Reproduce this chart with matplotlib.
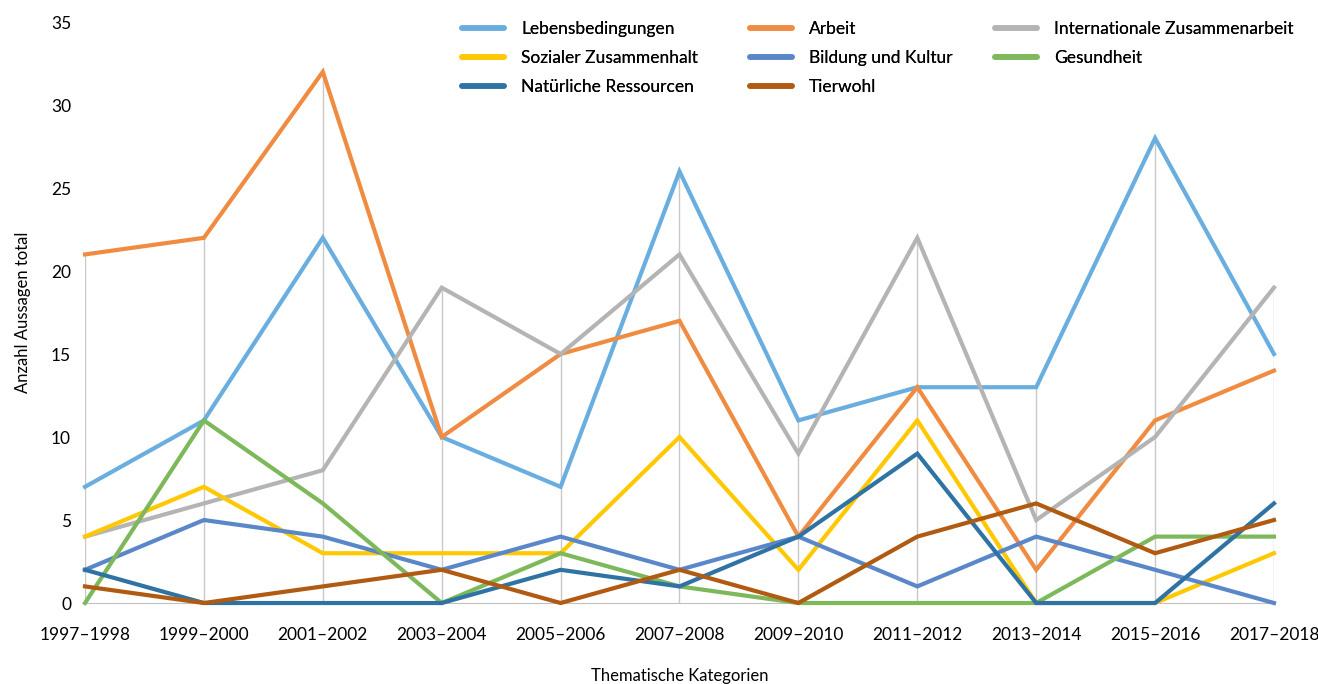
import matplotlib.pyplot as plt
from matplotlib.lines import Line2D

plt.rcParams['font.family'] = ['Lato', 'DejaVu Sans']

# Daten
perioden = ['1997–1998', '1999–2000', '2001–2002', '2003–2004', '2005–2006', '2007–2008',
            '2009–2010', '2011–2012', '2013–2014', '2015–2016', '2017–2018']
lebensbedingungen = [7, 11, 22, 10, 7, 26, 11, 13, 13, 28, 15]
arbeit = [21, 22, 32, 10, 15, 17, 4, 13, 2, 11, 14]
international = [4, 6, 8, 19, 15, 21, 9, 22, 5, 10, 19]
sozial = [4, 7, 3, 3, 3, 10, 2, 11, 0, 0, 3]
bildung = [2, 5, 4, 2, 4, 2, 4, 1, 4, 2, 0]
gesundheit = [0, 11, 6, 0, 3, 1, 0, 0, 0, 4, 4]
ressourcen = [2, 0, 0, 0, 2, 1, 4, 9, 0, 0, 6]
tierwohl = [1, 0, 1, 2, 0, 2, 0, 4, 6, 3, 5]

serien = [
    ('Lebensbedingungen', lebensbedingungen, '#6aaee0'),
    ('Arbeit', arbeit, '#f08c42'),
    ('Internationale Zusammenarbeit', international, '#b4b4b4'),
    ('Sozialer Zusammenhalt', sozial, '#ffc800'),
    ('Bildung und Kultur', bildung, '#5a87c8'),
    ('Gesundheit', gesundheit, '#7db85a'),
    ('Natürliche Ressourcen', ressourcen, '#2e73a4'),
    ('Tierwohl', tierwohl, '#b05a12'),
]

fig = plt.figure(figsize=(13.18, 6.84), dpi=100)
ax = fig.add_axes([0.0645, 0.1184, 0.9021, 0.8494])

x = list(range(len(perioden)))
# Falllinien vom höchsten Wert bis zur Achse
maxima = [max(werte) for werte in zip(*[s[1] for s in serien])]
ax.vlines(x, 0, maxima, color='#c8c8c8', lw=1, zorder=0)

handles = []
for name, werte, farbe in serien:
    ax.plot(x, werte, color=farbe, lw=3, clip_on=False, solid_joinstyle='miter', zorder=3)
    handles.append(Line2D([], [], color=farbe, lw=4, solid_capstyle='round', label=name))

ax.set_xlim(0, 10)
ax.set_ylim(0, 35)
ax.set_xticks(x)
ax.set_xticklabels(perioden)
ax.set_yticks(range(0, 36, 5))
for s in ['top', 'right', 'left']:
    ax.spines[s].set_visible(False)
ax.spines['bottom'].set_color('#c0c0c0')
ax.tick_params(length=0, labelsize=12.5)
ax.tick_params(axis='x', pad=17)
ax.tick_params(axis='y', pad=10)

ax.set_xlabel('Thematische Kategorien', fontsize=12, labelpad=18)
ax.set_ylabel('Anzahl Aussagen total', fontsize=12, labelpad=14)

# Legende: drei Spalten, zeilenweise gefüllt
spalten_x = [462, 750, 995]
for i, sx in enumerate(spalten_x):
    leg = fig.legend(handles=handles[i::3], loc='upper left',
                     bbox_to_anchor=(sx / 1318, 1 - 21 / 684),
                     frameon=False, fontsize=12.5, handlelength=2.4, borderpad=0,
                     borderaxespad=0, labelspacing=0.75, handletextpad=1.0)
    fig.add_artist(leg)

fig.savefig('out.png', dpi=100)
